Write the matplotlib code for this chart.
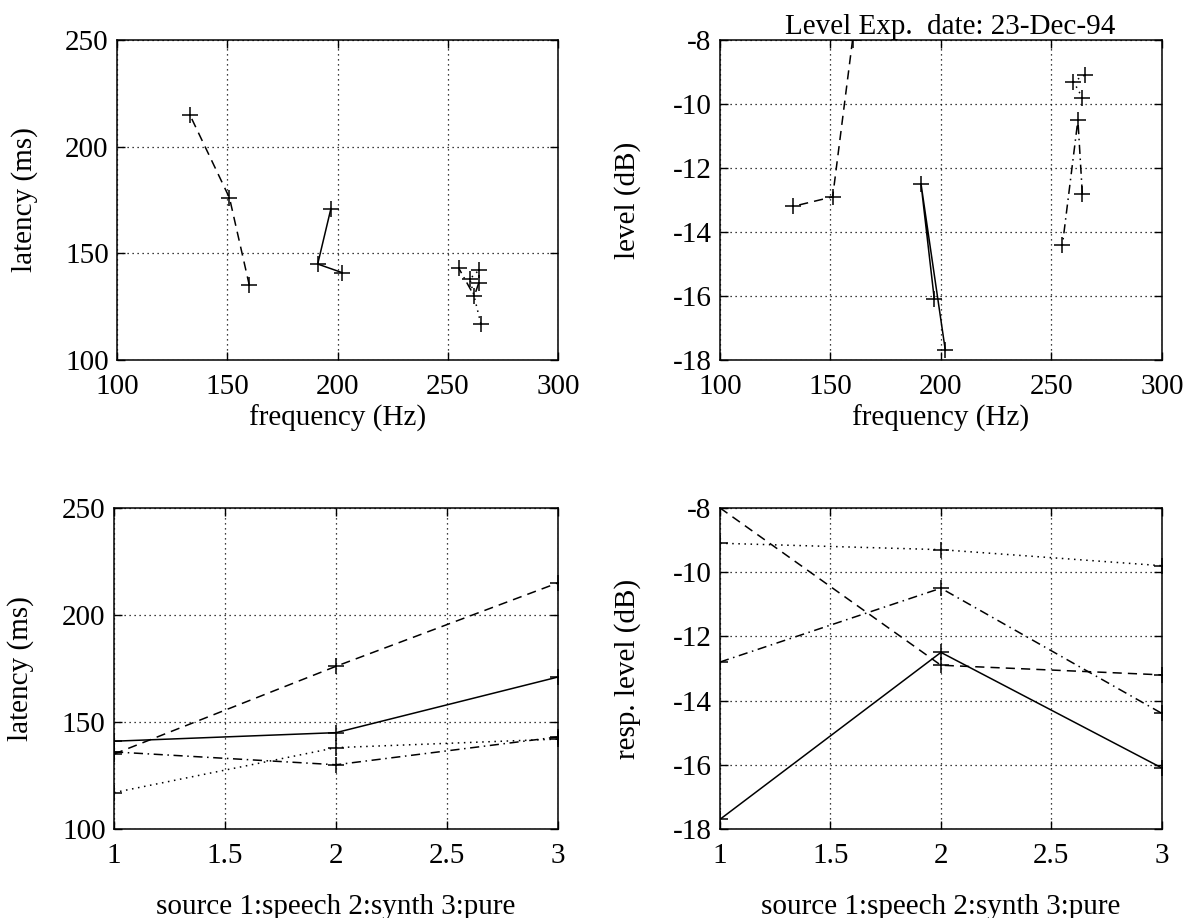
import matplotlib
matplotlib.use("Agg")
import matplotlib.pyplot as plt

plt.rcParams['font.family'] = ['Liberation Serif', 'DejaVu Serif']
plt.rcParams['axes.unicode_minus'] = False

# source index 1: speech, 2: synth, 3: pure
source = [1, 2, 3]

# one series per stimulus (line style as in the original plot)
freq_dashed = [160, 151, 133]
freq_solid = [202, 191, 197]
freq_dotted = [265, 260, 264]
freq_dashdot = [264, 262, 255]

lat_dashed = [135, 176, 215]
lat_solid = [141, 145, 171]
lat_dotted = [117, 138, 142]
lat_dashdot = [136, 130, 143]

lev_dashed = [-8.0, -12.9, -13.2]
lev_solid = [-17.7, -12.5, -16.1]
lev_dotted = [-9.1, -9.3, -9.8]
lev_dashdot = [-12.8, -10.5, -14.4]

styles = {
    'dashed': (0, (6, 4)),
    'solid': '-',
    'dotted': (0, (1, 3)),
    'dashdot': (0, (6, 3, 1, 3)),
}

freqs = [freq_dashed, freq_solid, freq_dotted, freq_dashdot]
lats = [lat_dashed, lat_solid, lat_dotted, lat_dashdot]
levs = [lev_dashed, lev_solid, lev_dotted, lev_dashdot]
names = ['dashed', 'solid', 'dotted', 'dashdot']

FS = 21

fig = plt.figure(figsize=(12.04, 9.18), dpi=100)
ax1 = fig.add_axes([0.0972, 0.6078, 0.3663, 0.3486])
ax2 = fig.add_axes([0.598, 0.6078, 0.367, 0.3486])
ax3 = fig.add_axes([0.0947, 0.097, 0.3688, 0.3497])
ax4 = fig.add_axes([0.598, 0.097, 0.367, 0.3497])


def style_axes(ax, xlab_y):
    ax.grid(True, color='black', linestyle=(0, (1, 3)), linewidth=0.9)
    ax.tick_params(direction='in', top=True, right=True, labelsize=FS,
                   length=6, width=1)
    ax.tick_params(axis='x', pad=10)
    ax.tick_params(axis='y', pad=6)
    for s in ax.spines.values():
        s.set_linewidth(1.1)
    ax.yaxis.set_label_coords(-0.21, 0.5)
    ax.xaxis.set_label_coords(0.5, xlab_y)


def draw(ax, xs_list, ys_list):
    for xs, ys, n in zip(xs_list, ys_list, names):
        ax.plot(xs, ys, color='black', linestyle=styles[n], linewidth=1.1,
                marker='+', markersize=11, markeredgewidth=1.1)


draw(ax1, freqs, lats)
ax1.set_xlim(100, 300)
ax1.set_ylim(100, 250)
ax1.set_xticks([100, 150, 200, 250, 300])
ax1.set_yticks([100, 150, 200, 250])
ax1.set_xlabel('frequency (Hz)', fontsize=FS, va='center')
ax1.set_ylabel('latency (ms)', fontsize=FS, va='center')
style_axes(ax1, -0.182)

draw(ax2, freqs, levs)
ax2.set_xlim(100, 300)
ax2.set_ylim(-18, -8)
ax2.set_xticks([100, 150, 200, 250, 300])
ax2.set_yticks([-18, -16, -14, -12, -10, -8])
ax2.set_xlabel('frequency (Hz)', fontsize=FS, va='center')
ax2.set_ylabel('level (dB)', fontsize=FS, va='center')
ax2.text(0.52, 1.02, 'Level Exp.  date: 23-Dec-94', transform=ax2.transAxes,
         ha='center', va='baseline', fontsize=FS)
style_axes(ax2, -0.182)

draw(ax3, [source] * 4, lats)
ax3.set_xlim(1, 3)
ax3.set_ylim(100, 250)
ax3.set_xticks([1, 1.5, 2, 2.5, 3])
ax3.set_xticklabels(['1', '1.5', '2', '2.5', '3'])
ax3.set_yticks([100, 150, 200, 250])
ax3.set_xlabel('source 1:speech 2:synth 3:pure', fontsize=FS, va='center')
ax3.set_ylabel('latency (ms)', fontsize=FS, va='center')
style_axes(ax3, -0.243)

draw(ax4, [source] * 4, levs)
ax4.set_xlim(1, 3)
ax4.set_ylim(-18, -8)
ax4.set_xticks([1, 1.5, 2, 2.5, 3])
ax4.set_xticklabels(['1', '1.5', '2', '2.5', '3'])
ax4.set_yticks([-18, -16, -14, -12, -10, -8])
ax4.set_xlabel('source 1:speech 2:synth 3:pure', fontsize=FS, va='center')
ax4.set_ylabel('resp. level (dB)', fontsize=FS, va='center')
style_axes(ax4, -0.243)

fig.savefig('out.png', dpi=100)
